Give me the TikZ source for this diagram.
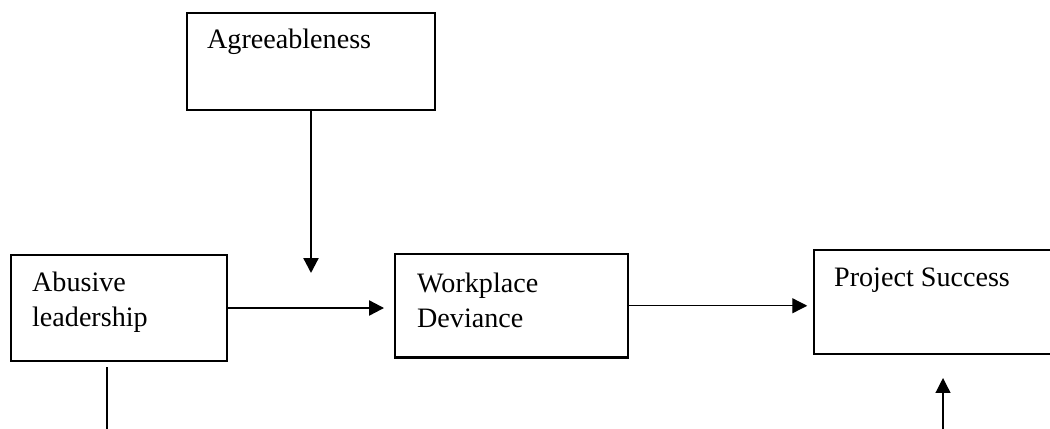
\documentclass[tikz,border=0pt]{standalone}
\usepackage{fontspec}
\setmainfont{Liberation Serif}
\usetikzlibrary{arrows.meta}
\begin{document}
\begin{tikzpicture}[x=0.025cm, y=-0.025cm,
  box/.style={draw, line width=1.6pt, rectangle, inner sep=0pt},
  lbl/.style={anchor=base west, inner sep=0pt, align=left, font=\fontsize{20}{25.5}\selectfont},
  thick arr/.style={line width=1.6pt, -{Triangle[length=10.6pt, width=10.6pt]}},
  thin arr/.style={line width=0.9pt, -{Triangle[length=10.6pt, width=10.6pt]}}]
\useasboundingbox (0,0) rectangle (1050,428);
\node[box, minimum width=248*0.025cm, minimum height=97*0.025cm] (agr) at (311,61.5){};
\node[lbl] (agrtxt) at ([shift={(21,37)}]agr.north west){Agreeableness};
\node[box, minimum width=216*0.025cm, minimum height=106*0.025cm] (abl) at (119,308){};
\node[lbl] (abltxt) at ([shift={(22,73)}]abl.north west){Abusive\\leadership};
\node[box, minimum width=233*0.025cm, minimum height=103.5*0.025cm] (wpd) at (511.5,305.75){};
\node[lbl] (wpdtxt) at ([shift={(23,75)}]wpd.north west){Workplace\\Deviance};
\node[box, minimum width=280*0.025cm, minimum height=104*0.025cm] (psc) at (954,302){};
\node[lbl] (psctxt) at ([shift={(21,38)}]psc.north west){Project Success};
\coordinate (agrend) at (311,273);
\draw[thick arr](agr.south) -- (agrend);
\draw[thick arr, shorten >=7pt](abl.east) -- (abl.east -| wpd.west);
\draw[thin arr, shorten >=4pt](wpd.east) -- (wpd.east -| psc.west);
\coordinate (abltop) at (107,367);
\coordinate (ablend) at (107,430);
\draw[line width=0.9pt](abltop) -- (ablend);
\coordinate (pscbot) at (943,430);
\coordinate (pscend) at (943,378);
\draw[thin arr](pscbot) -- (pscend);
\end{tikzpicture}
\end{document}
